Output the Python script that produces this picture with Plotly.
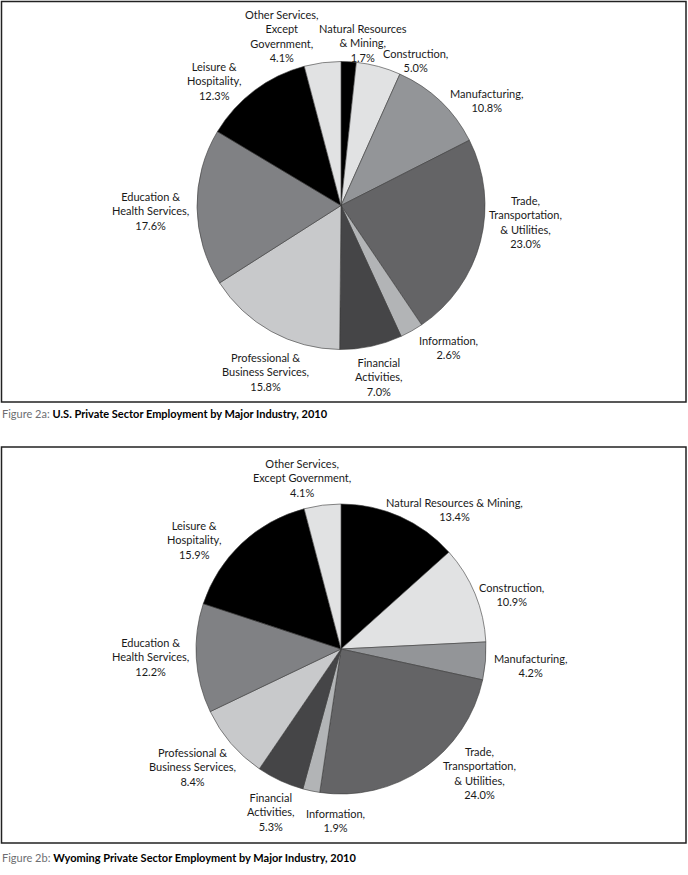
import plotly.graph_objects as go

categories = ["Natural Resources & Mining", "Construction", "Manufacturing",
              "Trade, Transportation, & Utilities", "Information", "Financial Activities",
              "Professional & Business Services", "Education & Health Services",
              "Leisure & Hospitality", "Other Services, Except Government"]
us_values = [1.7, 5.0, 10.8, 23.0, 2.6, 7.0, 15.8, 17.6, 12.3, 4.1]
wy_values = [13.4, 10.9, 4.2, 24.0, 1.9, 5.3, 8.4, 12.2, 15.9, 4.1]

us_labels = ["Natural Resources<br>& Mining,", "Construction,", "Manufacturing,",
             "Trade,<br>Transportation,<br>& Utilities,", "Information,", "Financial<br>Activities,",
             "Professional &<br>Business Services,", "Education &<br>Health Services,",
             "Leisure &<br>Hospitality,", "Other Services,<br>Except<br>Government,"]
wy_labels = ["Natural Resources & Mining,", "Construction,", "Manufacturing,",
             "Trade,<br>Transportation,<br>& Utilities,", "Information,", "Financial<br>Activities,",
             "Professional &<br>Business Services,", "Education &<br>Health Services,",
             "Leisure &<br>Hospitality,", "Other Services,<br>Except Government,"]

# label block centres in page pixels (x, y)
us_label_pos = [(363, 42.5), (415, 60), (486, 100), (525, 222), (448, 347.5),
                (379, 376.5), (265, 372), (150, 211), (214, 81), (282, 35.5)]
wy_label_pos = [(455, 509), (511, 594.5), (530, 665.5), (479, 773), (335, 820),
                (271, 812), (192, 767), (150, 657), (194, 540), (302, 478.5)]

colors = ["#000000", "#e1e2e3", "#939598", "#646466", "#b2b4b6",
          "#454547", "#c8c9cb", "#808184", "#000000", "#e1e2e3"]

W, H = 688, 875
FONT = "Lato, 'Open Sans', sans-serif"
CAP_FONT = "Lato, sans-serif"

def dom(cx, cy, r):
    return dict(x=[(cx - r) / W, (cx + r) / W], y=[1 - (cy + r) / H, 1 - (cy - r) / H])

fig = go.Figure()
annotations = []
for vals, labs, pos, (cx, cy, r) in [(us_values, us_labels, us_label_pos, (341, 205.5, 144)),
                                     (wy_values, wy_labels, wy_label_pos, (341, 649, 145))]:
    fig.add_trace(go.Pie(
        values=vals, labels=categories,
        textinfo="none", hoverinfo="label+percent",
        sort=False, direction="clockwise", rotation=0,
        marker=dict(colors=colors, line=dict(color="#3a3a3a", width=0.6)),
        domain=dom(cx, cy, r), showlegend=False,
    ))
    for l, v, (px, py) in zip(labs, vals, pos):
        annotations.append(dict(
            x=px / W, y=1 - py / H, xref="paper", yref="paper",
            xanchor="center", yanchor="middle", align="center", showarrow=False,
            text=f"{l}<br>{v:.1f}%", font=dict(family=FONT, size=11, color="#1a1a1a")))

def box(y0, y1):
    return dict(type="rect", xref="paper", yref="paper",
                x0=1.5 / W, x1=686 / W, y0=1 - y1 / H, y1=1 - y0 / H,
                line=dict(color="#222222", width=1.5))

annotations += [
    dict(x=0, y=1 - 413 / H, xref="paper", yref="paper", xanchor="left", yanchor="middle",
         showarrow=False, font=dict(family=CAP_FONT, size=11, color="#000"),
         text="<span style='color:#6d6e71'>Figure 2a:</span> <b>U.S. Private Sector Employment by Major Industry, 2010</b>"),
    dict(x=0, y=1 - 857 / H, xref="paper", yref="paper", xanchor="left", yanchor="middle",
         showarrow=False, font=dict(family=CAP_FONT, size=11, color="#000"),
         text="<span style='color:#6d6e71'>Figure 2b:</span> <b>Wyoming Private Sector Employment by Major Industry, 2010</b>"),
]

fig.update_layout(
    width=W, height=H, margin=dict(l=0, r=0, t=0, b=0),
    paper_bgcolor="white", plot_bgcolor="white",
    shapes=[box(1.5, 402), box(447, 843)],
    annotations=annotations,
)
fig.write_html("out.html", config={"displayModeBar": False},
               post_script="document.body.style.margin='0';document.body.style.padding='0';"
                           "document.documentElement.style.overflow='hidden';")
